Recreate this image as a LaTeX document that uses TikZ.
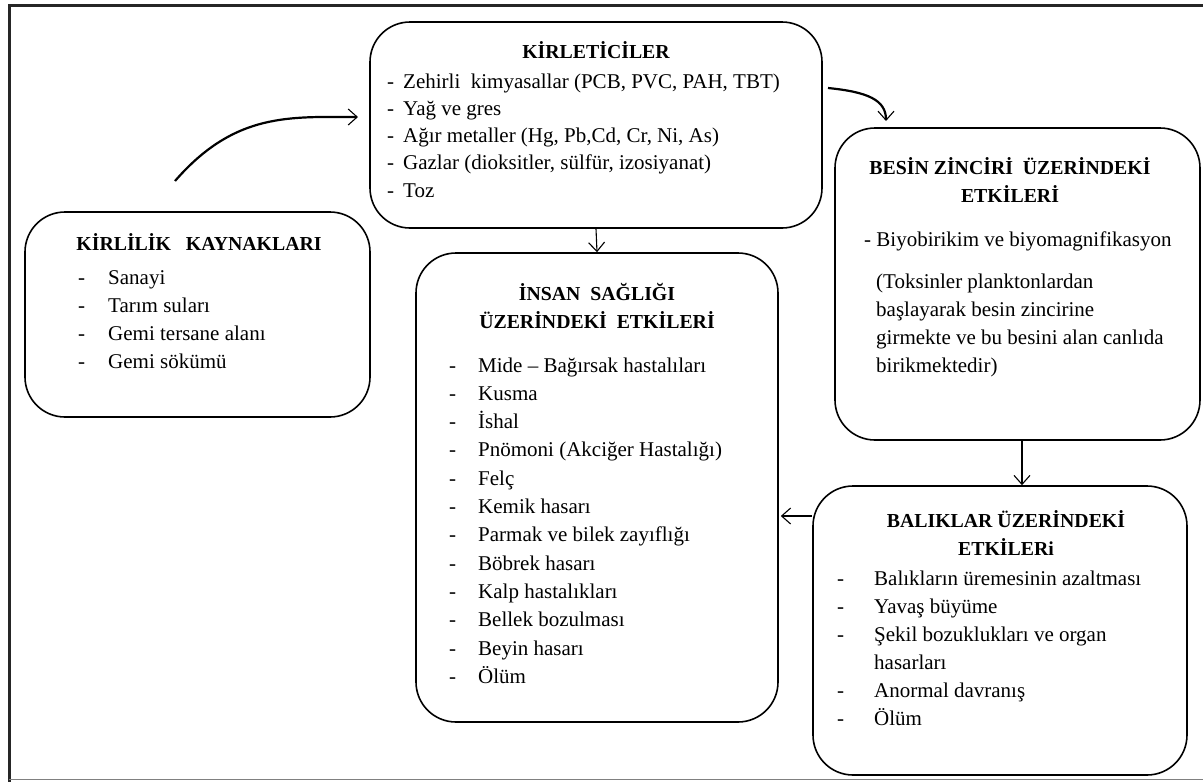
\documentclass[tikz,border=0pt]{standalone}
\usepackage{fontspec}
\setmainfont{Liberation Serif}
\usetikzlibrary{positioning, arrows.meta}

\begin{document}
\begin{tikzpicture}[
    x=1pt, y=-1pt,
    box/.style={
        draw,
        rounded corners=40pt,
        line width=1.6pt,
        fill=white
    },
    heading/.style={
        anchor=base,
        inner sep=0pt,
        font=\fontsize{19.8}{28}\selectfont\bfseries
    },
    listtext/.style={
        anchor=base west,
        inner sep=0pt,
        font=\fontsize{21}{28}\selectfont
    },
    arrow/.style={-{Straight Barb[length=9pt,width=16pt,line width=1.1pt]}, line width=1.1pt},
    bentarrow/.style={-{Straight Barb[length=9pt,width=16pt,line width=1.1pt]}, line width=2.2pt}
]
    \useasboundingbox (0,0) rectangle (1203,782);

    % frame
    \draw[line width=3pt, black!85] (1203,5) -- (9,5) -- (9,782);
    \draw[line width=1.5pt, gray] (9,779.5) -- (1203,779.5);

    % boxes
    \node[box, minimum width=452, minimum height=206] (kirletici) at (596,125) {};
    \node[box, minimum width=345, minimum height=205] (kaynak) at (197.5,314.5) {};
    \node[box, minimum width=365, minimum height=312] (besin) at (1017.5,284) {};
    \node[box, minimum width=362, minimum height=469] (insan) at (597,487.5) {};
    \node[box, minimum width=374, minimum height=289] (balik) at (1000,630.5) {};

    % KIRLETICILER
    \node[heading] (kirleticiH) at (596,58) {KİRLETİCİLER};
    \node[listtext, font=\fontsize{21}{27.3}\selectfont] (kirleticiL) at (387,88) {\begin{tabular}[t]{@{}p{16pt}@{}l@{}}
        - & Zehirli\ \ kimyasallar (PCB, PVC, PAH, TBT)\\
        - & Yağ ve gres\\
        - & Ağır metaller (Hg, Pb,Cd, Cr, Ni, As)\\
        - & Gazlar (dioksitler, sülfür, izosiyanat)\\
        - & Toz
    \end{tabular}};

    % KIRLILIK KAYNAKLARI
    \node[heading] (kaynakH) at (199,250) {KİRLİLİK\ \ \ KAYNAKLARI};
    \node[listtext] (kaynakL) at (78,284) {\begin{tabular}[t]{@{}p{30pt}@{}l@{}}
        - & Sanayi\\
        - & Tarım suları\\
        - & Gemi tersane alanı\\
        - & Gemi sökümü
    \end{tabular}};

    % BESIN ZINCIRI
    \node[heading] (besinH) at (1010,174) {\begin{tabular}[t]{@{}c@{}}
        BESİN ZİNCİRİ\ \ ÜZERİNDEKİ\\ ETKİLERİ
    \end{tabular}};
    \node[listtext] (besinL) at (864,246) {- Biyobirikim ve biyomagnifikasyon};
    \node[listtext] (besinP) at (876,288) {\begin{tabular}[t]{@{}l@{}}
        (Toksinler planktonlardan\\
        başlayarak besin zincirine\\
        girmekte ve bu besini alan canlıda\\
        birikmektedir)
    \end{tabular}};

    % INSAN SAGLIGI
    \node[heading] (insanH) at (597,300) {\begin{tabular}[t]{@{}c@{}}
        İNSAN\ \ SAĞLIĞI\\ ÜZERİNDEKİ\ \ ETKİLERİ
    \end{tabular}};
    \node[listtext, font=\fontsize{21}{28.3}\selectfont] (insanL) at (449,372) {\begin{tabular}[t]{@{}p{29pt}@{}l@{}}
        - & Mide -- Bağırsak hastalıları\\
        - & Kusma\\
        - & İshal\\
        - & Pnömoni (Akciğer Hastalığı)\\
        - & Felç\\
        - & Kemik hasarı\\
        - & Parmak ve bilek zayıflığı\\
        - & Böbrek hasarı\\
        - & Kalp hastalıkları\\
        - & Bellek bozulması\\
        - & Beyin hasarı\\
        - & Ölüm
    \end{tabular}};

    % BALIKLAR
    \node[heading] (balikH) at (1006,527) {\begin{tabular}[t]{@{}c@{}}
        BALIKLAR ÜZERİNDEKİ\\ ETKİLERi
    \end{tabular}};
    \node[listtext] (balikL) at (837,585) {\begin{tabular}[t]{@{}p{37pt}@{}l@{}}
        - & Balıkların üremesinin azaltması\\
        - & Yavaş büyüme\\
        - & Şekil bozuklukları ve organ\\
          & hasarları\\
        - & Anormal davranış\\
        - & Ölüm
    \end{tabular}};

    % connectors
    \coordinate (kaynakOut) at (175,181);
    \coordinate (kirleticiIn) at (358,117);
    \coordinate (kirleticiOut) at (828,88);
    \coordinate (besinIn) at (886,121);
    \draw[bentarrow] (kaynakOut) .. controls (235,112) and (290,117) .. (kirleticiIn);
    \draw[bentarrow] (kirleticiOut) .. controls (868,92) and (886,100) .. (besinIn);
    \draw[arrow] (kirletici.south) -- (insan.north);
    \draw[arrow] ([xshift=4.5pt]besin.south) -- ([xshift=4.5pt]besin.south |- balik.north);
    \draw[arrow] (balik.west |- 0,516) -- ([xshift=2pt]insan.east |- 0,516);

\end{tikzpicture}
\end{document}
